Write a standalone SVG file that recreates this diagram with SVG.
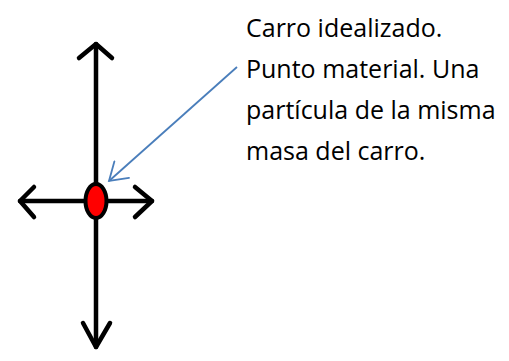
<svg xmlns="http://www.w3.org/2000/svg" width="509" height="361" viewBox="0 0 509 361">
<style>
.ax{stroke:#000;stroke-width:4.5;fill:none;stroke-linecap:round;stroke-linejoin:round}
.lbl{font-family:"Open Sans","Liberation Sans",sans-serif;font-size:25px;fill:#000}
</style>
<defs>
<marker id="blueHead" markerWidth="24" markerHeight="24" refX="18" refY="12" orient="auto" markerUnits="userSpaceOnUse" viewBox="0 0 24 24">
<path d="M1,1 L18,12 L1,23" fill="none" stroke="#4A7EBB" stroke-width="1.8" stroke-linecap="round"/>
</marker>
</defs>
<rect width="509" height="361" fill="#fff"/>
<g id="axes">
<path class="ax" d="M96,44 V347 M20,201 H152"/>
<path class="ax" d="M79,58 L96,44 L112,58"/>
<path class="ax" d="M83,323 L96,347 L110,323"/>
<path class="ax" d="M34,187 L20,201 L34,217"/>
<path class="ax" d="M135,187 L152,201 L135,217"/>
</g>
<g id="particle">
<ellipse cx="96" cy="201" rx="10.5" ry="17" fill="#FF0000" stroke="#000" stroke-width="4"/>
</g>
<g id="connectors">
<line x1="237" y1="67" x2="109" y2="181" stroke="#4A7EBB" stroke-width="1.8" marker-end="url(#blueHead)"/>
</g>
<g id="label">
<text class="lbl" x="246" y="37">Carro idealizado.</text>
<text class="lbl" x="246" y="78">Punto material. Una</text>
<text class="lbl" x="246" y="119">partícula de la misma</text>
<text class="lbl" x="246" y="160">masa del carro.</text>
</g>
</svg>
